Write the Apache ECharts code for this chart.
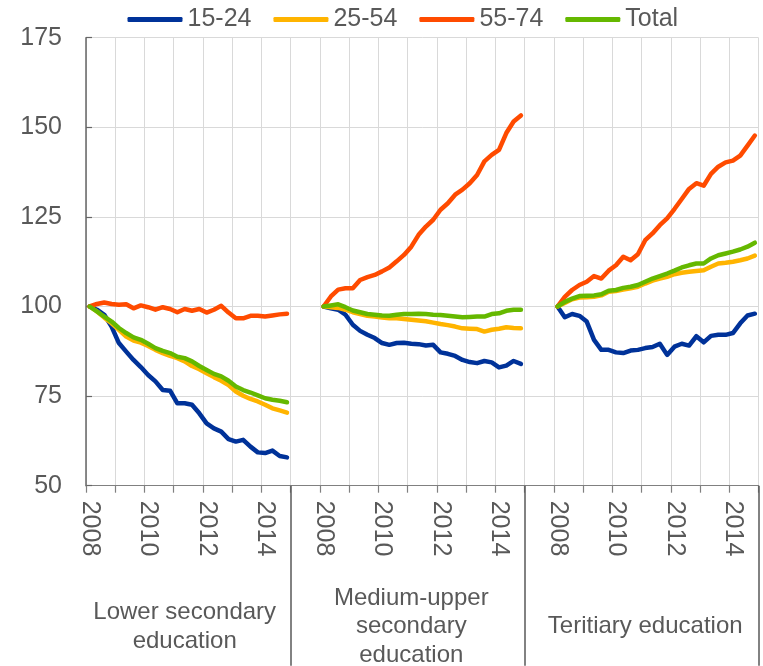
<!DOCTYPE html>
<html>
<head>
<meta charset="utf-8">
<script src="https://cdn.jsdelivr.net/npm/echarts@6/dist/echarts.min.js"></script>
<style>
  html, body { margin: 0; padding: 0; background: #fff; }
  #chart { width: 763px; height: 666px; }
</style>
</head>
<body>
<div id="chart"></div>
<script>
// quarterly index, 2008 Q1 = 100
const years = [2008, 2009, 2010, 2011, 2012, 2013, 2014]
const groups = ['Lower secondary\neducation', 'Medium-upper\nsecondary\neducation', 'Teritiary education']
const groupLabelIdx = [13, 44, 76]   // category under which each group name sits
const gapLen = 4                     // empty quarters between panels
const seriesNames = ['15-24', '25-54', '55-74', 'Total']
const colors = ['#003299', '#FFB400', '#FF4B00', '#65B800']
const yTicks = [50, 75, 100, 125, 150, 175]

// lower secondary
const low1524 = [100, 99.1, 97.7, 94.4, 89.8, 87.4, 85.1, 83.1, 80.9, 79.1, 76.7, 76.5, 73.0, 73.0, 72.6, 70.2, 67.4, 66.0, 65.1, 63.0, 62.3, 62.8, 60.9, 59.3, 59.1, 59.8, 58.3, 57.9]
const low2554 = [100, 98.6, 96.9, 95.3, 93.5, 91.6, 90.5, 89.9, 89.0, 87.9, 87.0, 86.2, 85.6, 84.7, 83.4, 82.5, 81.4, 80.3, 79.3, 78.1, 76.3, 75.1, 74.2, 73.5, 72.6, 71.6, 71.0, 70.4]
const low5574 = [100, 100.7, 101.1, 100.7, 100.5, 100.6, 99.5, 100.3, 99.8, 99.1, 99.8, 99.3, 98.4, 99.3, 98.8, 99.3, 98.3, 99.1, 100.2, 98.3, 96.7, 96.7, 97.4, 97.4, 97.2, 97.5, 97.8, 98.0]
const lowTot = [100, 98.6, 97.2, 95.8, 94.0, 92.6, 91.4, 90.7, 89.6, 88.4, 87.6, 87.0, 86.0, 85.6, 84.7, 83.4, 82.3, 81.2, 80.5, 79.3, 77.7, 76.7, 76.0, 75.2, 74.4, 74.0, 73.7, 73.3]

// medium-upper secondary
const mid1524 = [100, 99.5, 99.1, 97.7, 94.9, 93.2, 92.1, 91.2, 89.8, 89.3, 89.8, 89.9, 89.6, 89.5, 89.1, 89.3, 87.2, 86.8, 86.2, 85.1, 84.5, 84.2, 84.8, 84.4, 83.0, 83.5, 84.8, 84.0]
const mid2554 = [100, 99.8, 99.6, 99.1, 98.4, 97.9, 97.4, 97.2, 96.9, 96.7, 96.7, 96.5, 96.3, 96.1, 95.9, 95.5, 95.1, 94.8, 94.4, 93.9, 93.8, 93.7, 93.0, 93.5, 93.8, 94.2, 94.0, 93.9]
const mid5574 = [100, 102.8, 104.7, 105.1, 105.1, 107.4, 108.2, 108.8, 109.8, 110.9, 112.6, 114.4, 116.7, 120.0, 122.3, 124.2, 127.0, 128.8, 131.2, 132.6, 134.4, 136.7, 140.5, 142.3, 143.7, 148.4, 151.6, 153.3]
const midTot = [100, 100.3, 100.6, 99.8, 98.9, 98.4, 97.9, 97.7, 97.5, 97.4, 97.7, 97.9, 97.9, 98.0, 97.9, 97.7, 97.6, 97.4, 97.2, 97.0, 97.1, 97.2, 97.2, 97.9, 98.1, 98.8, 99.1, 99.1]

// tertiary
const ter1524 = [100, 97.0, 97.9, 97.4, 95.8, 90.7, 87.9, 87.9, 87.2, 87.0, 87.7, 87.9, 88.4, 88.7, 89.6, 86.5, 88.8, 89.6, 89.1, 91.7, 90.0, 91.8, 92.1, 92.1, 92.6, 95.3, 97.5, 98.0]
const ter2554 = [100, 101.0, 102.0, 102.5, 102.6, 102.7, 103.1, 104.1, 104.3, 104.7, 105.1, 105.5, 106.4, 107.2, 107.8, 108.3, 109.0, 109.4, 109.7, 109.9, 110.1, 111.1, 112.0, 112.2, 112.5, 112.9, 113.4, 114.2]
const ter5574 = [100, 102.7, 104.6, 106.0, 106.9, 108.5, 107.8, 110.0, 111.5, 113.9, 112.9, 114.6, 118.5, 120.4, 122.7, 124.6, 127.2, 130.0, 132.8, 134.4, 133.7, 137.0, 139.0, 140.2, 140.7, 142.1, 144.9, 147.7]
const terTot = [100, 101.3, 102.2, 102.9, 103.0, 103.1, 103.4, 104.4, 104.6, 105.2, 105.5, 106.0, 106.9, 107.8, 108.5, 109.2, 110.0, 110.9, 111.5, 112.0, 112.0, 113.4, 114.3, 114.8, 115.3, 115.9, 116.7, 117.8]

const panels = [
  [low1524, low2554, low5574, lowTot],
  [mid1524, mid2554, mid5574, midTot],
  [ter1524, ter2554, ter5574, terTot]
]

// one long category axis: 3 panels of 28 quarters, 4 empty quarters between them
const cats = []
groups.forEach((g, p) => {
  if (p > 0) for (let k = 0; k < gapLen; k++) cats.push('gap-' + p + '-' + k)
  years.forEach(y => { for (let q = 1; q <= 4; q++) cats.push(y + '-Q' + q + '-' + p) })
})

function joinPanels(s) {
  let out = []
  panels.forEach((pan, p) => {
    if (p > 0) for (let k = 0; k < gapLen; k++) out.push(null)
    out = out.concat(pan[s])
  })
  return out
}

const font = 'Liberation Sans, Arial, sans-serif'
const textColor = '#595959'

const myChart = echarts.init(document.getElementById('chart'))
myChart.setOption({
  animation: false,
  color: colors,
  legend: {
    top: 2,
    left: 122.5,
    icon: 'roundRect',
    itemWidth: 55,
    itemHeight: 5,
    itemGap: 22,
    textStyle: { fontSize: 25, color: textColor, fontFamily: font },
    data: seriesNames
  },
  grid: {
    left: 86, right: 4.5, top: 37.7, bottom: 180.3,
    containLabel: false,
    outerBoundsMode: 'none'
  },
  xAxis: [{
    type: 'category',
    data: cats,
    boundaryGap: true,
    axisLine: { lineStyle: { color: '#808080', width: 1.2 } },
    axisTick: { show: true, interval: 3, length: 7, lineStyle: { color: '#808080', width: 1.2 } },
    splitLine: { show: true, interval: 3, lineStyle: { color: '#d9d9d9', width: 1 } },
    axisLabel: {
      rotate: -90,
      margin: 15,
      fontSize: 25,
      color: textColor,
      fontFamily: font,
      interval: function (i, v) {
        const parts = String(v).split('-')
        return parts[1] === 'Q1' && Number(parts[0]) % 2 === 0
      },
      formatter: function (v) { return String(v).split('-')[0] }
    }
  }, {
    // group names and the long separators between panels
    type: 'category',
    data: cats,
    position: 'bottom',
    boundaryGap: true,
    axisLine: { show: false },
    axisTick: {
      show: true,
      length: 180,
      interval: function (i) { return i === 28 || i === 60 },
      lineStyle: { color: '#595959', width: 1.5 }
    },
    splitLine: { show: false },
    axisLabel: {
      margin: 141,
      fontSize: 24,
      lineHeight: 28.5,
      color: textColor,
      fontFamily: font,
      verticalAlign: 'middle',
      align: 'center',
      interval: function (i) { return groupLabelIdx.indexOf(i) >= 0 },
      formatter: function (v, i) {
        const p = groupLabelIdx.indexOf(i)
        return p >= 0 ? groups[p] : ''
      }
    }
  }],
  yAxis: {
    type: 'value',
    min: yTicks[0],
    max: yTicks[yTicks.length - 1],
    interval: 25,
    axisLine: { show: true, lineStyle: { color: '#666666', width: 1.5 } },
    axisTick: { show: true, inside: true, length: 6, lineStyle: { color: '#666666', width: 1.2 } },
    splitLine: { show: true, lineStyle: { color: '#d9d9d9', width: 1 } },
    axisLabel: { margin: 24, fontSize: 25, color: textColor, fontFamily: font }
  },
  series: seriesNames.map((name, s) => ({
    type: 'line',
    name: name,
    xAxisIndex: 0,
    data: joinPanels(s),
    symbol: 'none',
    connectNulls: false,
    lineStyle: { width: 4.5, color: colors[s], cap: 'round', join: 'round' }
  }))
})
</script>
</body>
</html>
